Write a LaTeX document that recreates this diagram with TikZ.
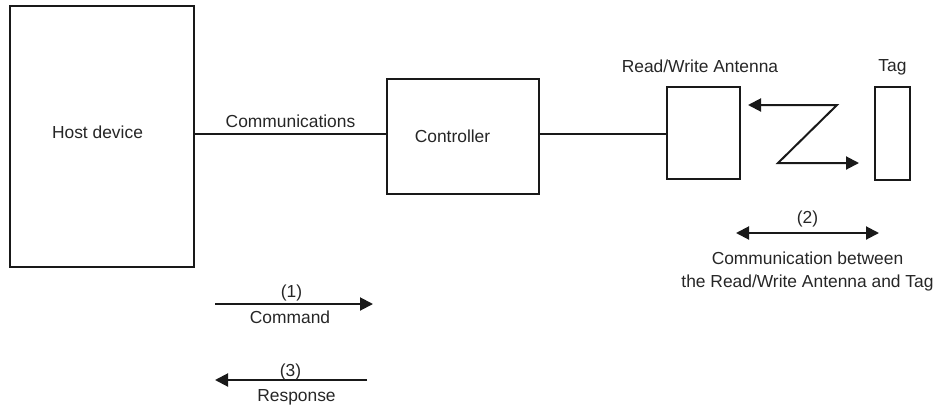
\documentclass[tikz,border=0pt]{standalone}
\usepackage{fontspec}
\setmainfont{Liberation Sans}
\usetikzlibrary{arrows.meta}
\begin{document}
\begin{tikzpicture}[x=1pt,y=-1pt,
  box/.style={draw=black!90,line width=2.2pt,inner sep=0pt,fill=white},
  conn/.style={draw=black!90,line width=2pt},
  arr/.style={draw=black!90,line width=2pt,-{Triangle[length=13pt,width=13pt]}},
  darr/.style={draw=black!90,line width=2pt,{Triangle[length=13pt,width=13pt]}-{Triangle[length=13pt,width=13pt]},line join=miter},
  txt/.style={anchor=base,inner sep=0pt,text=black!85,font=\fontsize{17.4}{22.5}\selectfont}]
\useasboundingbox (0,0) rectangle (940,405);
% boxes
\node[box,minimum width=184pt,minimum height=261pt] (host) at (102,136.5) {};
\node[box,minimum width=152pt,minimum height=115pt] (ctrl) at (463,136.5) {};
\node[box,minimum width=73pt,minimum height=92pt] (ant) at (703.5,133) {};
\node[box,minimum width=35pt,minimum height=93pt] (tag) at (892.5,133.5) {};
% labels
\node[txt] (hostlbl) at (97.5,138) {Host device};
\node[txt] (ctrllbl) at (452.5,142) {Controller};
\node[txt] (antlbl) at (700,72) {Read/Write Antenna};
\node[txt] (taglbl) at (892.5,71) {Tag};
\node[txt] (commlbl) at (290.5,127) {Communications};
% connectors
\coordinate (lvl) at (0,134);
\draw[conn] (host.east |- lvl) -- (ctrl.west |- lvl);
\draw[conn] (ctrl.east |- lvl) -- (ant.west |- lvl);
% Z arrow
\coordinate (zA) at (748,105);
\coordinate (z1) at (837,105);
\coordinate (z2) at (778,163);
\coordinate (zB) at (859,163);
\draw[darr] (zA) -- (z1) -- (z2) -- (zB);
% (2)
\coordinate (c2a) at (736,233);
\coordinate (c2b) at (879,233);
\draw[darr] (c2a) -- (c2b);
\node[txt] (n2) at (807.5,223) {(2)};
\node[txt] (n2a) at (807.5,264.5) {Communication between};
\node[txt] (n2b) at (807.5,287) {the Read/Write Antenna and Tag};
% (1)
\coordinate (c1a) at (215,304);
\coordinate (c1b) at (373,304);
\draw[arr] (c1a) -- (c1b);
\node[txt] (n1) at (291.5,297.5) {(1)};
\node[txt] (n1a) at (290,323) {Command};
% (3)
\coordinate (c3a) at (367,380);
\coordinate (c3b) at (215,380);
\draw[arr] (c3a) -- (c3b);
\node[txt] (n3) at (290.5,376) {(3)};
\node[txt] (n3a) at (296.5,401) {Response};
\end{tikzpicture}
\end{document}
